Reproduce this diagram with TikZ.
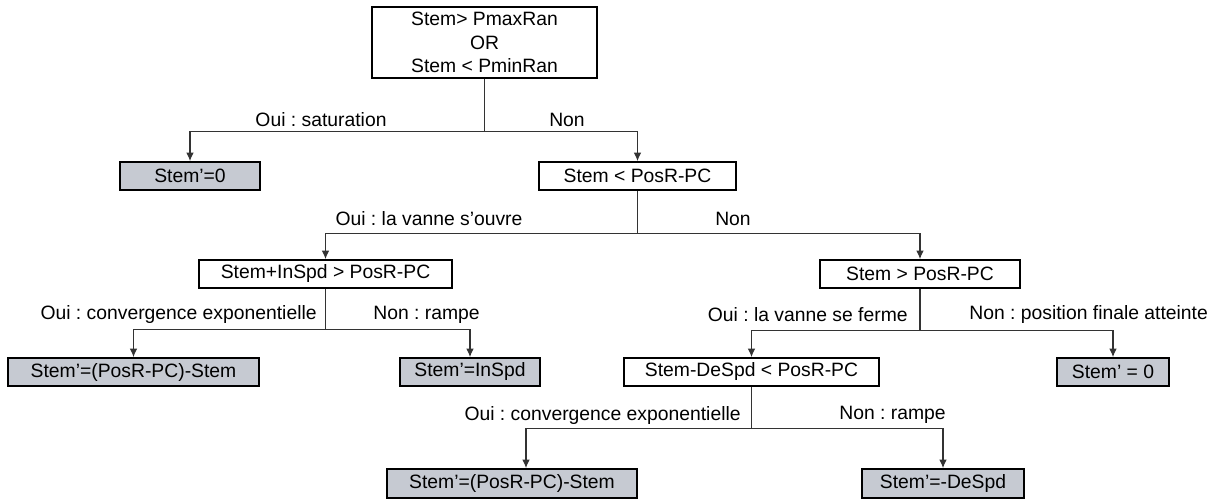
\documentclass[tikz,border=0pt]{standalone}
\usepackage{fontspec}
\setmainfont{Liberation Sans}
\usetikzlibrary{arrows.meta}
\definecolor{resgray}{RGB}{198,202,210}
\frenchspacing
\begin{document}
\begin{tikzpicture}[x=0.02cm,y=-0.02cm]

    \tikzset{
      test/.style={
        draw,
        line width=1pt,
        inner sep=0pt,
        minimum height=0.56cm,
        font=\fontsize{11}{13.3}\selectfont,
      },
      result/.style={
        test,
        fill=resgray,
      },
      link/.style={
        draw=black!80,
        line width=0.6pt,
        >={Latex[length=4.8pt,width=4.2pt]},
        ->,
      },
      lab/.style={
        inner sep=0pt,
        font=\fontsize{11}{13.3}\selectfont,
      },
    }

	\useasboundingbox (0,0) rectangle (1214,500);

	% tests
	\node[test,minimum width=4.5cm,minimum height=1.42cm,align=center] (top) at (484.5,42.5) {Stem> PmaxRan\\OR\\Stem < PminRan};
	\node[test,minimum width=3.94cm] (c1) at (637.5,176) {Stem < PosR-PC};
	\node[test,minimum width=5.06cm] (c2) at (325.5,274) {Stem+InSpd > PosR-PC};
	\node[test,minimum width=4cm] (c3) at (920,274) {Stem > PosR-PC};
	\node[test,minimum width=5.1cm] (c4) at (751.5,372) {Stem-DeSpd < PosR-PC};

	% results
	\node[result,minimum width=2.8cm] (s0) at (190,176) {Stem’=0};
	\node[result,minimum width=5.02cm] (r1) at (133.5,372) {Stem’=(PosR-PC)-Stem};
	\node[result,minimum width=2.8cm] (r2) at (470,372) {Stem’=InSpd};
	\node[result,minimum width=2.24cm] (r3) at (1113,372) {Stem’ = 0};
	\node[result,minimum width=5cm,minimum height=0.58cm] (r4) at (512,483.5) {Stem’=(PosR-PC)-Stem};
	\node[result,minimum width=3.24cm,minimum height=0.58cm] (r5) at (943,483.5) {Stem’=-DeSpd};

	% branches
	\draw[link] (top.south) -- ++(0,53) coordinate (b1) -| (s0.north);
	\draw[link] (b1) -| (c1.north);
	\draw[link] (c1.south) -- ++(0,43) coordinate (b2) -| (c2.north);
	\draw[link] (b2) -| (c3.north);
	\draw[link] (c2.south) -- ++(0,41) coordinate (b3) -| (r1.north);
	\draw[link] (b3) -| (r2.north);
	\draw[link] (c3.south) -- ++(0,42) coordinate (b4) -| (c4.north);
	\draw[link] (b4) -| (r3.north);
	\draw[link] (c4.south) -- ++(0,42) coordinate (b5) -| ([xshift=0.28cm]r4.north);
	\draw[link] (b5) -| (r5.north);

	% labels
	\node[lab] (l1) at (321,120) {Oui : saturation};
	\node[lab] (l2) at (567,120) {Non};
	\node[lab] (l3) at (429,219) {Oui : la vanne s’ouvre};
	\node[lab] (l4) at (733,219) {Non};
	\node[lab,anchor=east] (l5) at (317,315) {Oui : convergence exponentielle};
	\node[lab,anchor=west] (l6) at (373,315) {Non : rampe};
	\node[lab,anchor=east] (l7) at (908,315) {Oui : la vanne se ferme};
	\node[lab,anchor=west] (l8) at (969,315) {Non : position finale atteinte};
	\node[lab,anchor=east] (l9) at (741,415) {Oui : convergence exponentielle};
	\node[lab,anchor=west] (l10) at (839,415) {Non : rampe};

\end{tikzpicture}
\end{document}
